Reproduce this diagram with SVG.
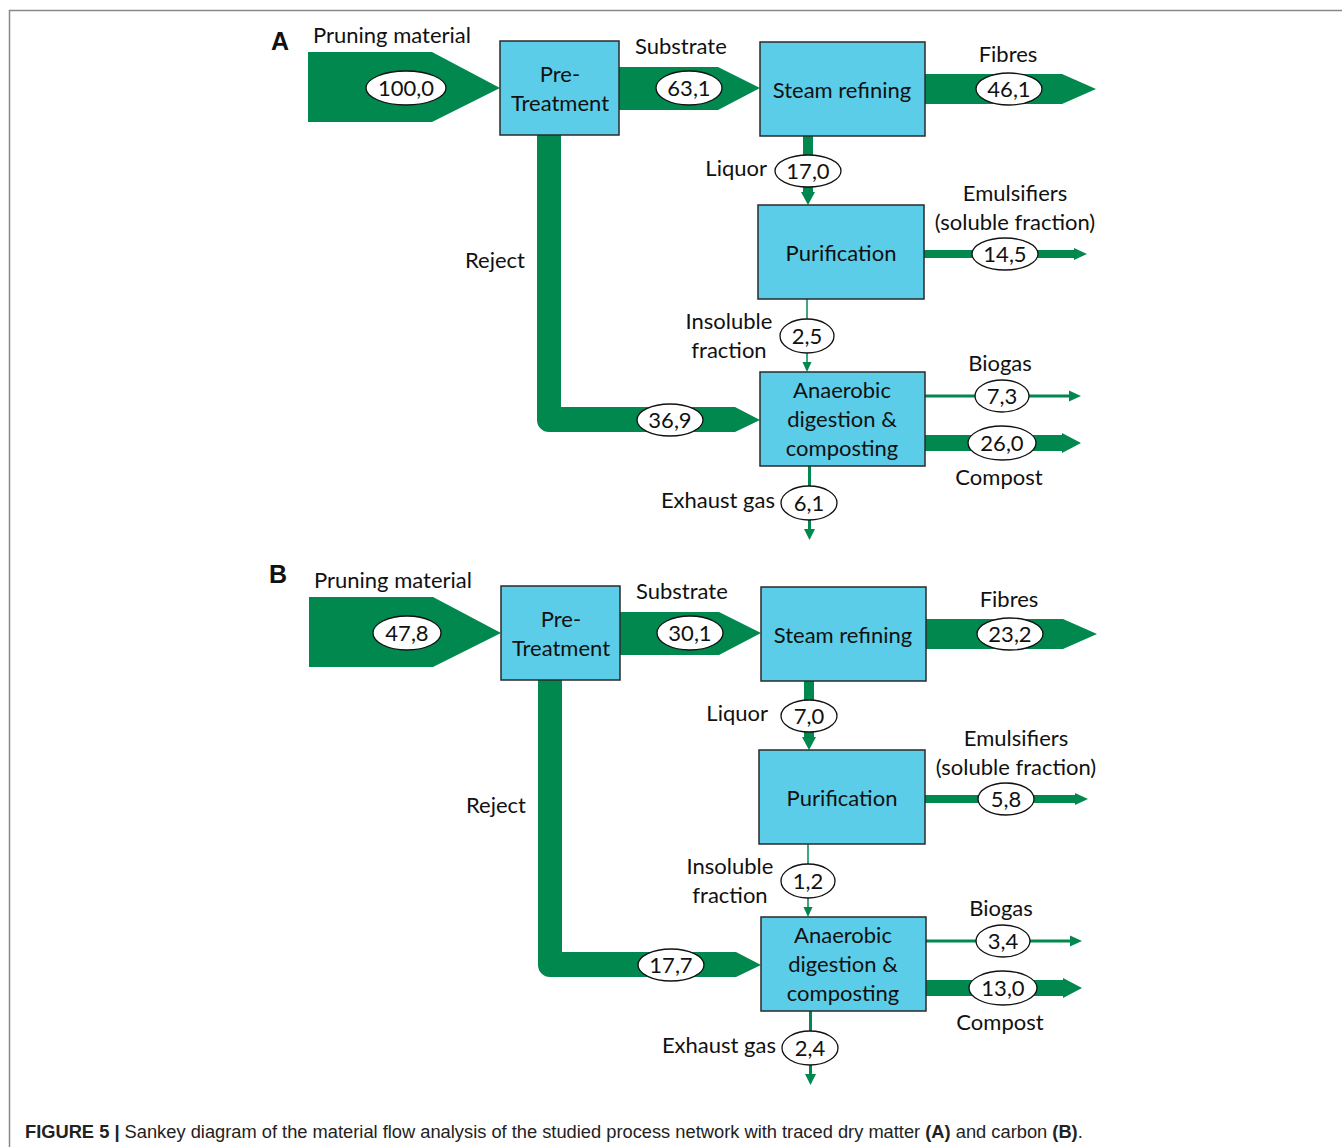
<svg xmlns="http://www.w3.org/2000/svg" width="1342" height="1147" viewBox="0 0 1342 1147">
<style>
.flow{fill:#00884f;stroke:none}
.thin{stroke:#00884f;fill:none}
.box{fill:#5bcde8;stroke:#2a2a2a;stroke-width:1.5}
.lbl{font-family:Lato,"Liberation Sans",sans-serif;font-size:22px;fill:#111}
.val{font-family:Lato,"Liberation Sans",sans-serif;font-size:22px;fill:#111;text-anchor:middle}
.ell{fill:#fff;stroke:#111;stroke-width:1.3}
.mid{text-anchor:middle}
.end{text-anchor:end}
.panel{font-family:"Liberation Sans",Arial,sans-serif;font-weight:bold;font-size:25px;fill:#111}
.cap{font-family:"Liberation Sans",Arial,sans-serif;font-size:18.3px;fill:#222}
</style>
<rect x="0" y="0" width="1342" height="1147" fill="#fff"/>
<path d="M9.5,1147 V10.5 H1342" fill="none" stroke="#888" stroke-width="1.5"/>

<g id="panelA">
<text class="panel" x="271" y="50">A</text>
<g id="A-connectors">
<polygon class="flow" points="308,52 432,52 500,88 432,122 308,122"/>
<polygon class="flow" points="619,67 718,67 760,88 718,110 619,110"/>
<polygon class="flow" points="925,74 1062,74 1096,89 1062,104 925,104"/>
<polygon class="flow" points="803,136 813,136 813,192 815,192 808,205 801,192 803,192"/>
<rect class="flow" x="924" y="250" width="152" height="8"/>
<polygon class="flow" points="1074,248 1087,254 1074,260"/>
<line class="thin" x1="807" y1="299" x2="807" y2="364" stroke-width="1.5"/>
<polygon class="flow" points="802.5,362 811.5,362 807,372"/>
<path class="flow" d="M537,135 H561 V407 H735 L760,420 L735,432 H549 A12,12 0 0 1 537,420 Z"/>
<line class="thin" x1="925" y1="396" x2="1072" y2="396" stroke-width="3"/>
<polygon class="flow" points="1069,390.5 1081,396 1069,401.5"/>
<polygon class="flow" points="925,435 1062,435 1062,433 1081,443 1062,453 1062,451 925,451"/>
<line class="thin" x1="809.5" y1="466" x2="809.5" y2="531" stroke-width="3"/>
<polygon class="flow" points="804,529 815,529 809.5,540"/>
<text class="lbl" x="313" y="43">Pruning material</text>
<text class="lbl" x="635" y="54">Substrate</text>
<text class="lbl mid" x="1008" y="62">Fibres</text>
<text class="lbl end" x="767" y="176">Liquor</text>
<text class="lbl mid" x="1015" y="201">Emulsifiers</text>
<text class="lbl mid" x="1015" y="230">(soluble fraction)</text>
<text class="lbl" x="465" y="268">Reject</text>
<text class="lbl mid" x="729" y="329">Insoluble</text>
<text class="lbl mid" x="729" y="358">fraction</text>
<text class="lbl mid" x="1000" y="371">Biogas</text>
<text class="lbl mid" x="999" y="485">Compost</text>
<text class="lbl end" x="775" y="508">Exhaust gas</text>
<ellipse class="ell" cx="406" cy="88" rx="40" ry="17"/><text class="val" x="406" y="96">100,0</text>
<ellipse class="ell" cx="689" cy="88" rx="33" ry="17"/><text class="val" x="689" y="96">63,1</text>
<ellipse class="ell" cx="1009" cy="89" rx="33" ry="16"/><text class="val" x="1009" y="97">46,1</text>
<ellipse class="ell" cx="808" cy="171" rx="33" ry="16"/><text class="val" x="808" y="179">17,0</text>
<ellipse class="ell" cx="1005" cy="254" rx="33" ry="16"/><text class="val" x="1005" y="262">14,5</text>
<ellipse class="ell" cx="807" cy="336" rx="27" ry="17"/><text class="val" x="807" y="344">2,5</text>
<ellipse class="ell" cx="670" cy="420" rx="33" ry="16"/><text class="val" x="670" y="428">36,9</text>
<ellipse class="ell" cx="1002" cy="396" rx="27" ry="16"/><text class="val" x="1002" y="404">7,3</text>
<ellipse class="ell" cx="1002" cy="443" rx="34" ry="17"/><text class="val" x="1002" y="451">26,0</text>
<ellipse class="ell" cx="809" cy="503" rx="28" ry="17"/><text class="val" x="809" y="511">6,1</text>
</g>
<g id="A-pretreatment"><rect class="box" x="500" y="41" width="119" height="94"/><text class="lbl mid" x="560" y="82">Pre-</text><text class="lbl mid" x="560" y="111">Treatment</text></g>
<g id="A-steam"><rect class="box" x="760" y="42" width="165" height="94"/><text class="lbl mid" x="842" y="98">Steam refining</text></g>
<g id="A-purification"><rect class="box" x="758" y="205" width="166" height="94"/><text class="lbl mid" x="841" y="261">Purification</text></g>
<g id="A-anaerobic"><rect class="box" x="760" y="372" width="165" height="94"/><text class="lbl mid" x="842" y="398">Anaerobic</text><text class="lbl mid" x="842" y="427">digestion &amp;</text><text class="lbl mid" x="842" y="456">composting</text></g>
</g>

<g id="panelB" transform="translate(1,545)">
<text class="panel" x="268" y="38">B</text>
<g id="B-connectors">
<polygon class="flow" points="308,52 432,52 500,88 432,122 308,122"/>
<polygon class="flow" points="619,67 718,67 760,88 718,110 619,110"/>
<polygon class="flow" points="925,74 1062,74 1096,89 1062,104 925,104"/>
<polygon class="flow" points="803,136 813,136 813,192 815,192 808,205 801,192 803,192"/>
<rect class="flow" x="924" y="250" width="152" height="8"/>
<polygon class="flow" points="1074,248 1087,254 1074,260"/>
<line class="thin" x1="807" y1="299" x2="807" y2="364" stroke-width="1.5"/>
<polygon class="flow" points="802.5,362 811.5,362 807,372"/>
<path class="flow" d="M537,135 H561 V407 H735 L760,420 L735,432 H549 A12,12 0 0 1 537,420 Z"/>
<line class="thin" x1="925" y1="396" x2="1072" y2="396" stroke-width="3"/>
<polygon class="flow" points="1069,390.5 1081,396 1069,401.5"/>
<polygon class="flow" points="925,435 1062,435 1062,433 1081,443 1062,453 1062,451 925,451"/>
<line class="thin" x1="809.5" y1="466" x2="809.5" y2="531" stroke-width="3"/>
<polygon class="flow" points="804,529 815,529 809.5,540"/>
<text class="lbl" x="313" y="43">Pruning material</text>
<text class="lbl" x="635" y="54">Substrate</text>
<text class="lbl mid" x="1008" y="62">Fibres</text>
<text class="lbl end" x="767" y="176">Liquor</text>
<text class="lbl mid" x="1015" y="201">Emulsifiers</text>
<text class="lbl mid" x="1015" y="230">(soluble fraction)</text>
<text class="lbl" x="465" y="268">Reject</text>
<text class="lbl mid" x="729" y="329">Insoluble</text>
<text class="lbl mid" x="729" y="358">fraction</text>
<text class="lbl mid" x="1000" y="371">Biogas</text>
<text class="lbl mid" x="999" y="485">Compost</text>
<text class="lbl end" x="775" y="508">Exhaust gas</text>
<ellipse class="ell" cx="406" cy="88" rx="34" ry="17"/><text class="val" x="406" y="96">47,8</text>
<ellipse class="ell" cx="689" cy="88" rx="33" ry="17"/><text class="val" x="689" y="96">30,1</text>
<ellipse class="ell" cx="1009" cy="89" rx="33" ry="16"/><text class="val" x="1009" y="97">23,2</text>
<ellipse class="ell" cx="808" cy="171" rx="28" ry="16"/><text class="val" x="808" y="179">7,0</text>
<ellipse class="ell" cx="1005" cy="254" rx="28" ry="16"/><text class="val" x="1005" y="262">5,8</text>
<ellipse class="ell" cx="807" cy="336" rx="27" ry="17"/><text class="val" x="807" y="344">1,2</text>
<ellipse class="ell" cx="670" cy="420" rx="33" ry="16"/><text class="val" x="670" y="428">17,7</text>
<ellipse class="ell" cx="1002" cy="396" rx="27" ry="16"/><text class="val" x="1002" y="404">3,4</text>
<ellipse class="ell" cx="1002" cy="443" rx="34" ry="17"/><text class="val" x="1002" y="451">13,0</text>
<ellipse class="ell" cx="809" cy="503" rx="28" ry="17"/><text class="val" x="809" y="511">2,4</text>
</g>
<g id="B-pretreatment"><rect class="box" x="500" y="41" width="119" height="94"/><text class="lbl mid" x="560" y="82">Pre-</text><text class="lbl mid" x="560" y="111">Treatment</text></g>
<g id="B-steam"><rect class="box" x="760" y="42" width="165" height="94"/><text class="lbl mid" x="842" y="98">Steam refining</text></g>
<g id="B-purification"><rect class="box" x="758" y="205" width="166" height="94"/><text class="lbl mid" x="841" y="261">Purification</text></g>
<g id="B-anaerobic"><rect class="box" x="760" y="372" width="165" height="94"/><text class="lbl mid" x="842" y="398">Anaerobic</text><text class="lbl mid" x="842" y="427">digestion &amp;</text><text class="lbl mid" x="842" y="456">composting</text></g>
</g>

<text class="cap" x="25" y="1138"><tspan font-weight="bold">FIGURE 5 |</tspan> Sankey diagram of the material flow analysis of the studied process network with traced dry matter <tspan font-weight="bold">(A)</tspan> and carbon <tspan font-weight="bold">(B)</tspan>.</text>
</svg>
